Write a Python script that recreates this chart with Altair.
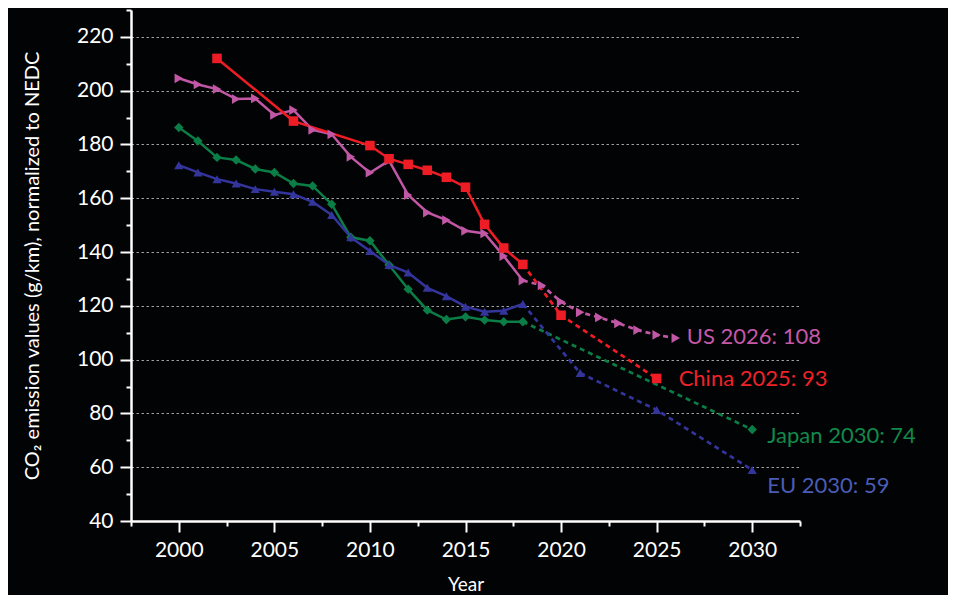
import altair as alt
import pandas as pd

FONT = "Lato"

series_names = ["US", "China", "Japan", "EU"]
series_colors = ["#c257a6", "#ee1d25", "#0b7d46", "#34359c"]
label_colors = ["#c458a8", "#ee2229", "#12894b", "#4a5cb6"]
series_shapes = ["triangle-right", "square", "diamond", "triangle-up"]
marker_sizes = [95, 85, 110, 95]

# historical values
us_years = list(range(2000, 2019))
us_hist = [204.6, 202.3, 200.6, 196.9, 197.1, 191.0, 192.8, 185.4, 183.8, 175.4,
           169.5, 174.0, 161.2, 154.7, 151.9, 147.9, 146.9, 138.5, 129.4]
china_years = [2002, 2006, 2010, 2011, 2012, 2013, 2014, 2015, 2016, 2017, 2018]
china_hist = [212.0, 188.7, 179.6, 174.7, 172.6, 170.4, 167.8, 164.1, 150.3, 141.5, 135.4]
japan_years = list(range(2000, 2019))
japan_hist = [186.3, 181.3, 175.2, 174.2, 170.9, 169.6, 165.5, 164.6, 157.8, 145.5,
              144.2, 135.2, 126.2, 118.4, 114.9, 115.9, 114.7, 114.1, 114.1]
eu_years = list(range(2000, 2019))
eu_hist = [172.3, 169.6, 167.1, 165.5, 163.4, 162.4, 161.5, 158.7, 153.8, 145.5,
           140.4, 135.2, 132.4, 126.7, 123.6, 119.7, 117.8, 118.2, 120.7]

# projections (targets)
us_proj_years = [2018, 2019, 2020, 2021, 2022, 2023, 2024, 2025, 2026]
us_proj = [129.4, 127.6, 121.5, 117.6, 115.7, 113.5, 111.0, 109.2, 108.0]
china_proj_years = [2018, 2020, 2025]
china_proj = [135.4, 116.5, 93.0]
japan_proj_years = [2018, 2030]
japan_proj = [114.1, 74.0]
eu_proj_years = [2018, 2021, 2025, 2030]
eu_proj = [120.7, 95.0, 81.3, 59.0]

end_labels = ["US 2026: 108", "China 2025: 93", "Japan 2030: 74", "EU 2030: 59"]

x_tick_values = [1997.5 + 2.5 * i for i in range(15)]
y_tick_values = list(range(40, 231, 10))

rows = []
for name, yrs, vals in [("US", us_years, us_hist), ("China", china_years, china_hist),
                        ("Japan", japan_years, japan_hist), ("EU", eu_years, eu_hist)]:
    for yr, v in zip(yrs, vals):
        rows.append({"series": name, "phase": "hist", "year": yr, "value": v})
for name, yrs, vals in [("US", us_proj_years, us_proj), ("China", china_proj_years, china_proj),
                        ("Japan", japan_proj_years, japan_proj), ("EU", eu_proj_years, eu_proj)]:
    for yr, v in zip(yrs, vals):
        rows.append({"series": name, "phase": "proj", "year": yr, "value": v})
df = pd.DataFrame(rows)
hist = df[df.phase == "hist"]
proj = df[df.phase == "proj"]
proj_pts = proj[proj.year > 2018]

ends = pd.DataFrame({
    "series": series_names,
    "year": [us_proj_years[-1], china_proj_years[-1], japan_proj_years[-1], eu_proj_years[-1]],
    "value": [us_proj[-1], china_proj[-1], japan_proj[-1], eu_proj[-1]],
    "label": end_labels,
})

x_scale = alt.Scale(domain=[1997.5, 2032.5], nice=False, zero=False)
y_scale = alt.Scale(domain=[40, 230], nice=False, zero=False)
color_scale = alt.Scale(domain=series_names, range=series_colors)
shape_scale = alt.Scale(domain=series_names, range=series_shapes)
size_scale = alt.Scale(domain=series_names, range=marker_sizes)

x_axis = alt.Axis(
    values=x_tick_values,
    labelExpr="datum.value % 5 === 0 ? datum.label : ''",
    format="d",
    tickSize=11,
    tickDash={"condition": {"test": "datum.value % 5 !== 0", "value": [5, 100]}, "value": [100, 0]},
    grid=False,
    domainColor="white", domainWidth=2.5,
    tickColor="white", tickWidth=2,
    labelColor="white", labelFont=FONT, labelFontSize=21, labelPadding=7,
    labelOverlap=False, labelFlush=False,
    title="Year", titleColor="white", titleFont=FONT, titleFontSize=19,
    titleFontWeight="normal", titlePadding=15,
)
y_axis = alt.Axis(
    values=y_tick_values,
    labelExpr="datum.value % 20 === 0 ? datum.label : ''",
    tickSize=11,
    tickDash={"condition": {"test": "datum.value % 20 !== 0", "value": [5, 100]}, "value": [100, 0]},
    grid=True, gridColor="#a0a0a0", gridDash=[2.5, 2.5], gridWidth=1.2,
    gridOpacity={"condition": {"test": "datum.value % 20 !== 0 || datum.value === 40", "value": 0}, "value": 1},
    domainColor="white", domainWidth=2.5,
    tickColor="white", tickWidth=2,
    labelColor="white", labelFont=FONT, labelFontSize=21, labelPadding=7,
    labelOverlap=False, labelFlush=False,
    title="CO₂ emission values (g/km), normalized to NEDC",
    titleColor="white", titleFont=FONT, titleFontSize=20, titleFontWeight="normal",
    titlePadding=34,
)

X = alt.X("year:Q", scale=x_scale, axis=x_axis)
Y = alt.Y("value:Q", scale=y_scale, axis=y_axis)
col = alt.Color("series:N", scale=color_scale, legend=None)
shp = alt.Shape("series:N", scale=shape_scale, legend=None)
siz = alt.Size("series:N", scale=size_scale, legend=None)

hist_lines = alt.Chart(hist).mark_line(strokeWidth=2.5).encode(
    x=X, y=Y, color=col, detail="series:N"
)
proj_lines = alt.Chart(proj).mark_line(strokeWidth=2.7, strokeDash=[5, 4]).encode(
    x=X, y=Y, color=col, detail="series:N"
)
hist_pts = alt.Chart(hist).mark_point(filled=True, opacity=1).encode(
    x=X, y=Y, color=col, shape=shp, size=siz
)
proj_points = alt.Chart(proj_pts).mark_point(filled=True, opacity=1).encode(
    x=X, y=Y, color=col, shape=shp, size=siz
)

label_offsets = {"US": (11, -1), "China": (22, 1), "Japan": (15, 6), "EU": (15, 16)}
texts = []
for name, lc in zip(series_names, label_colors):
    dx, dy = label_offsets[name]
    texts.append(
        alt.Chart(ends[ends.series == name]).mark_text(
            align="left", baseline="middle", dx=dx, dy=dy,
            font=FONT, fontSize=22, color=lc
        ).encode(x=X, y=Y, text="label:N")
    )

chart = alt.layer(hist_lines, proj_lines, hist_pts, proj_points, *texts).properties(
    width=669, height=511,
    autosize=alt.AutoSizeParams(type="none"),
    padding={"left": 123, "top": 2, "right": 148, "bottom": 74},
    background="#020304",
).configure_view(stroke=None)

chart.save("out.html", embed_options={"renderer": "svg", "actions": False})
